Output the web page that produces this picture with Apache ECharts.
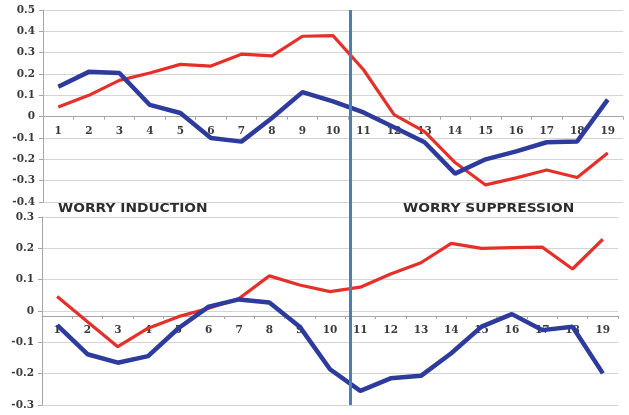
<!DOCTYPE html>
<html>
<head>
<meta charset="utf-8">
<script src="https://cdn.jsdelivr.net/npm/echarts@6/dist/echarts.min.js"></script>
<style>html,body{margin:0;padding:0;background:#fff;}#c{width:629px;height:415px;}</style>
</head>
<body>
<div id="c"></div>
<script>
var categories = ['1','2','3','4','5','6','7','8','9','10','11','12','13','14','15','16','17','18','19'];
var topRed  = [0.045, 0.10, 0.17, 0.205, 0.245, 0.237, 0.293, 0.285, 0.377, 0.38, 0.22, 0.01, -0.07, -0.215, -0.32, -0.287, -0.25, -0.285, -0.17];
var topBlue = [0.14, 0.21, 0.205, 0.055, 0.017, -0.10, -0.117, -0.006, 0.115, 0.072, 0.02, -0.05, -0.12, -0.267, -0.2, -0.163, -0.12, -0.116, 0.08];
var botRed  = [0.046, -0.034, -0.114, -0.055, -0.018, 0.009, 0.04, 0.112, 0.083, 0.062, 0.076, 0.118, 0.154, 0.216, 0.2, 0.202, 0.204, 0.134, 0.229];
var botBlue = [-0.045, -0.138, -0.165, -0.144, -0.055, 0.014, 0.037, 0.027, -0.05, -0.186, -0.255, -0.215, -0.207, -0.135, -0.05, -0.01, -0.061, -0.05, -0.199];
var dividerAt = 10.55;
var labelInduction = 'WORRY INDUCTION';
var labelSuppression = 'WORRY SUPPRESSION';

var RED = '#e5302a', BLUE = '#2c3b9c';
var labelFont = {fontFamily: 'DejaVu Serif', fontWeight: 'bold', fontSize: 10.5, color: '#3a3a3a'};
var grids = [
  {left: 43, right: 6, top: 10, height: 192},
  {left: 42, right: 11, top: 217, height: 188},
  {left: 43, right: 6, top: 10, bottom: 10}
];

function yAx(gi, min, max) {
  return {
    type: 'value', gridIndex: gi, min: min, max: max, interval: 0.1,
    axisLine: {show: true, lineStyle: {color: '#a6a6a6', width: 1}},
    axisTick: {show: true, length: 4, lineStyle: {color: '#a6a6a6'}},
    splitLine: {show: true, lineStyle: {color: '#d4d4d4', width: 1}},
    axisLabel: Object.assign({margin: 8, formatter: function (v) { return String(Math.round(v * 10) / 10); }}, labelFont)
  };
}
function xAx(gi, offset) {
  return {
    type: 'category', gridIndex: gi, data: categories, boundaryGap: true,
    position: 'bottom', offset: offset || 0,
    axisLine: {show: true, onZero: false, lineStyle: {color: '#a6a6a6', width: 1}},
    axisTick: {show: true, length: 3, inside: false, lineStyle: {color: '#a6a6a6'}},
    splitLine: {show: false},
    axisLabel: Object.assign({margin: 9, interval: 0}, labelFont)
  };
}
function caption(text, x) {
  return {type: 'text', x: x, y: 208.5, scaleX: 1.15, z: 10,
    style: {text: text, font: 'bold 12px "DejaVu Sans"', fill: '#2e2e2e', align: 'left', verticalAlign: 'middle'}};
}

var chart = echarts.init(document.getElementById('c'), null, {renderer: 'canvas'});
function build(off0, off1) {
  return {
    animation: false,
    backgroundColor: '#fff',
    grid: grids,
    xAxis: [xAx(0, off0), xAx(1, off1), {type: 'value', gridIndex: 2, min: 0.5, max: 19.5, show: false}],
    yAxis: [yAx(0, -0.4, 0.5), yAx(1, -0.3, 0.3), {type: 'value', gridIndex: 2, min: 0, max: 1, show: false}],
    graphic: [caption(labelInduction, 58), caption(labelSuppression, 403)],
    series: [
      {type: 'line', xAxisIndex: 0, yAxisIndex: 0, data: topRed, showSymbol: false, lineStyle: {color: RED, width: 3.2}, z: 3},
      {type: 'line', xAxisIndex: 0, yAxisIndex: 0, data: topBlue, showSymbol: false, lineStyle: {color: BLUE, width: 4.5}, z: 4},
      {type: 'line', xAxisIndex: 1, yAxisIndex: 1, data: botRed, showSymbol: false, lineStyle: {color: RED, width: 3.2}, z: 3},
      {type: 'line', xAxisIndex: 1, yAxisIndex: 1, data: botBlue, showSymbol: false, lineStyle: {color: BLUE, width: 4.5}, z: 4},
      {type: 'line', xAxisIndex: 2, yAxisIndex: 2, data: [], z: 5,
       markLine: {silent: true, symbol: 'none', label: {show: false},
         lineStyle: {color: '#4a7ebb', width: 3, type: 'solid'},
         data: [{xAxis: dividerAt}]}}
    ]
  };
}
chart.setOption(build(0, 0));
// Move each category axis onto the zero line of its value axis.
var z0 = chart.convertToPixel({yAxisIndex: 0}, 0);
var z1 = chart.convertToPixel({yAxisIndex: 1}, 0);
var b0 = chart.convertToPixel({yAxisIndex: 0}, -0.4);
var b1 = chart.convertToPixel({yAxisIndex: 1}, -0.3);
chart.setOption(build(z0 - b0, z1 - b1), true);
</script>
</body>
</html>
